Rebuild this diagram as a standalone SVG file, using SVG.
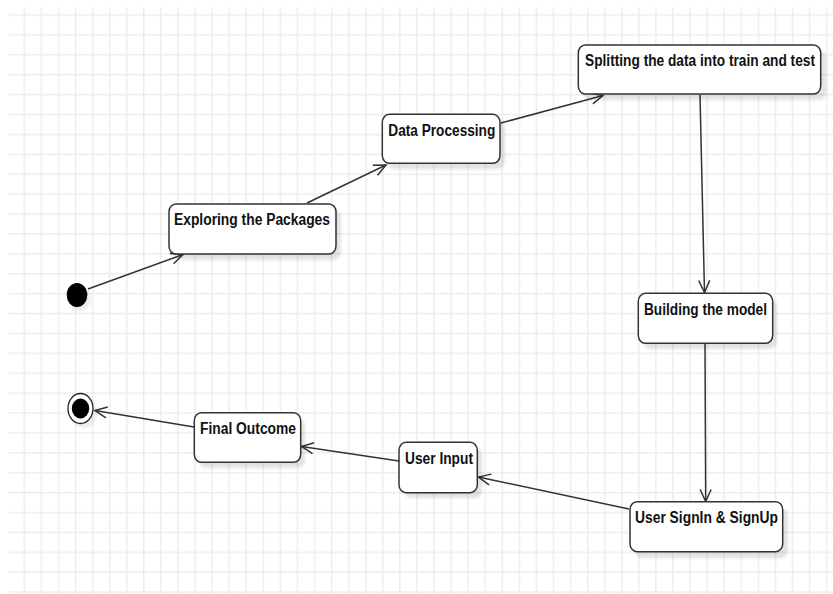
<svg xmlns="http://www.w3.org/2000/svg" width="833" height="594" viewBox="0 0 833 594">
<style>
.node rect.box{fill:#fff;stroke:#333;stroke-width:1.5}
.node rect.sh{fill:#000;opacity:0.11;filter:url(#blur)}
.node text{font-family:"Liberation Sans",Arial,sans-serif;font-weight:bold;font-size:16px;fill:#111}
.conn path{fill:none;stroke:#333;stroke-width:1.5;marker-end:url(#arr)}
</style>
<defs>
<filter id="blur" x="-20%" y="-20%" width="140%" height="140%"><feGaussianBlur stdDeviation="1.5"/></filter>
<pattern id="grid" patternUnits="userSpaceOnUse" x="23.55" y="14.25" width="17.07" height="19.9">
<path d="M0.75 0V19.9M0 0.75H17.07" stroke="#ededed" stroke-width="1.5" fill="none"/>
</pattern>
<marker id="arr" markerUnits="userSpaceOnUse" markerWidth="16" markerHeight="16" refX="0" refY="0" viewBox="-14 -8 16 16" orient="auto" overflow="visible">
<path d="M-12,-5.5 L0,0 L-12,5.5" fill="none" stroke="#333" stroke-width="1.5"/>
</marker>
</defs>
<rect width="833" height="594" fill="#fff"/>
<rect x="9" y="7" width="824" height="587" fill="url(#grid)"/>

<g id="connectors" class="conn">
<path d="M88,289 L183,254.5"/>
<path d="M307,203 L386,165"/>
<path d="M501,123 L603,95.5"/>
<path d="M700,95 L704.5,292.5"/>
<path d="M705,344 L705.7,501.5"/>
<path d="M629,509 L478.5,477"/>
<path d="M399,461 L301.5,446.5"/>
<path d="M194,427 L95,410.5"/>
</g>

<g id="start">
<ellipse cx="80" cy="299" rx="10.3" ry="12" fill="#000" opacity="0.08" filter="url(#blur)"/>
<ellipse cx="77" cy="295" rx="10.3" ry="12" fill="#000"/>
</g>

<g id="end">
<ellipse cx="84" cy="412" rx="13" ry="15.5" fill="#000" opacity="0.08" filter="url(#blur)"/>
<ellipse cx="80.5" cy="408.5" rx="12.5" ry="15" fill="#fff" stroke="#222" stroke-width="1.3"/>
<ellipse cx="80.5" cy="408.5" rx="8.7" ry="10" fill="#000"/>
</g>

<g id="exploring" class="node">
<rect class="sh" x="174" y="210" width="167" height="50" rx="7" ry="8"/>
<rect class="box" x="169" y="204" width="167" height="50" rx="7" ry="8"/>
<text x="174" y="225" textLength="156" lengthAdjust="spacingAndGlyphs">Exploring the Packages</text>
</g>

<g id="processing" class="node">
<rect class="sh" x="387" y="120" width="118" height="49" rx="7" ry="8"/>
<rect class="box" x="382.3" y="114.3" width="117.7" height="49" rx="7" ry="8"/>
<text x="388.3" y="136" textLength="107" lengthAdjust="spacingAndGlyphs">Data Processing</text>
</g>

<g id="splitting" class="node">
<rect class="sh" x="583" y="51" width="243" height="49" rx="7" ry="8"/>
<rect class="box" x="578.3" y="45" width="242.4" height="49" rx="7" ry="8"/>
<text transform="translate(585,66) scale(1,1.143)" x="0" y="0" style="font-size:14px" textLength="230" lengthAdjust="spacingAndGlyphs">Splitting the data into train and test</text>
</g>

<g id="building" class="node">
<rect class="sh" x="643" y="299" width="134" height="50" rx="7" ry="8"/>
<rect class="box" x="638.3" y="293.3" width="134.4" height="50" rx="7" ry="8"/>
<text x="644" y="314.5" textLength="123" lengthAdjust="spacingAndGlyphs">Building the model</text>
</g>

<g id="signin" class="node">
<rect class="sh" x="635" y="508" width="153" height="50" rx="7" ry="8"/>
<rect class="box" x="630" y="501.7" width="152.7" height="50" rx="7" ry="8"/>
<text x="635" y="523" textLength="143" lengthAdjust="spacingAndGlyphs">User SignIn &amp; SignUp</text>
</g>

<g id="userinput" class="node">
<rect class="sh" x="404" y="448" width="78" height="50" rx="7" ry="8"/>
<rect class="box" x="399" y="442.3" width="78.3" height="50.4" rx="7" ry="8"/>
<text x="405" y="463.5" textLength="68" lengthAdjust="spacingAndGlyphs">User Input</text>
</g>

<g id="final" class="node">
<rect class="sh" x="199" y="419" width="106" height="49" rx="7" ry="8"/>
<rect class="box" x="194.3" y="412.7" width="106.4" height="49.6" rx="7" ry="8"/>
<text x="200" y="434" textLength="96" lengthAdjust="spacingAndGlyphs">Final Outcome</text>
</g>
</svg>
